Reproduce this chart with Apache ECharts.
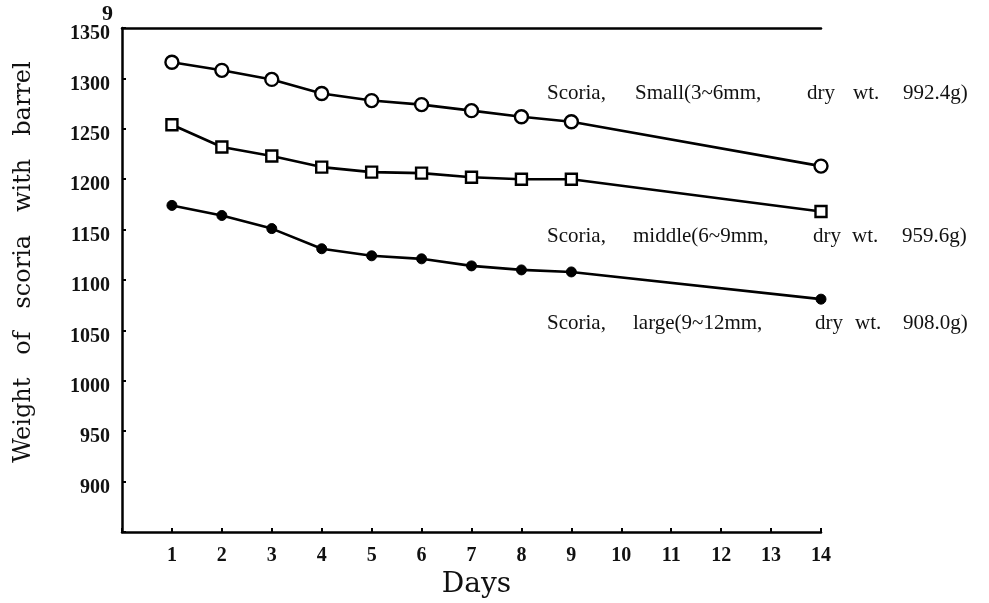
<!DOCTYPE html>
<html><head><meta charset="utf-8">
<script src="https://cdn.jsdelivr.net/npm/echarts@6/dist/echarts.min.js"></script>
<style>html,body{margin:0;padding:0;background:#fff}#c{width:989px;height:603px}</style>
</head><body><div id="c"></div>
<script>
const days = [1,2,3,4,5,6,7,8,9,14];
const smallVals  = [1316,1308,1299,1285,1278,1274,1268,1262,1257,1213];
const middleVals = [1254,1232,1223,1212,1207,1206,1202,1200,1200,1168];
const largeVals  = [1174,1164,1151,1131,1124,1121,1114,1110,1108,1081];
const xTicks = [1,2,3,4,5,6,7,8,9,10,11,12,13,14];
const yTicks = [900,950,1000,1050,1100,1150,1200,1250,1300,1350];
const labelSmall  = ['Scoria,', 'Small(3~6mm,', 'dry', 'wt.', '992.4g)'];
const labelMiddle = ['Scoria,', 'middle(6~9mm,', 'dry', 'wt.', '959.6g)'];
const labelLarge  = ['Scoria,', 'large(9~12mm,', 'dry', 'wt.', '908.0g)'];

const pairs = v => days.map((d,i)=>[d,v[i]]);
const chart = echarts.init(document.getElementById('c'));
const tickFont = {fontFamily:'Liberation Serif', fontWeight:'bold', fontSize:20, color:'#111'};
const wordOffsets = [[0,88,260,306,356],[0,86,266,305,355],[0,86,268,308,356]];
function labelGroup(words, offs, top){
  return words.map((w,i)=>({type:'text', left:547+offs[i], top:top,
    style:{text:w, font:'21px "Liberation Serif"', fill:'#111'}}));
}
chart.setOption({
  animation:false,
  backgroundColor:'#fff',
  grid:{left:122, top:28, right:168, bottom:71, containLabel:false, outerBoundsMode:'none'},
  xAxis:[{
    type:'value', min:0, max:14, interval:1,
    name:'Days', nameLocation:'middle', nameGap:36,
    nameTextStyle:{fontFamily:'DejaVu Serif', fontSize:28, color:'#111', padding:[0,0,0,10]},
    axisLine:{lineStyle:{color:'#000', width:2.5}},
    axisTick:{inside:true, length:4, lineStyle:{color:'#000', width:2}},
    axisLabel:Object.assign({margin:14, formatter:v=>xTicks.includes(v)?String(v):''}, tickFont),
    splitLine:{show:false}
  },{
    type:'value', position:'top', min:0, max:14,
    axisLine:{lineStyle:{color:'#000', width:2.5}},
    axisTick:{show:false}, axisLabel:{show:false}, splitLine:{show:false}
  }],
  yAxis:{
    type:'value', min:850, max:1350, interval:50,
    name:'Weight   of   scoria   with   barrel', nameLocation:'middle', nameGap:86, nameRotate:90,
    nameTextStyle:{fontFamily:'DejaVu Serif', fontSize:24, color:'#111', padding:[0,0,0,36]},
    axisLine:{lineStyle:{color:'#000', width:2.5}},
    axisTick:{inside:true, length:4, lineStyle:{color:'#000', width:2}},
    axisLabel:Object.assign({margin:12, verticalAlign:'top', lineHeight:12, formatter:v=>yTicks.includes(v)?String(v):''}, tickFont),
    splitLine:{show:false}
  },
  series:[
    {type:'line', data:pairs(smallVals), symbol:'circle', symbolSize:13,
     lineStyle:{color:'#000', width:2.6}, itemStyle:{color:'#fff', borderColor:'#000', borderWidth:2.4}},
    {type:'line', data:pairs(middleVals), symbol:'rect', symbolSize:11,
     lineStyle:{color:'#000', width:2.6}, itemStyle:{color:'#fff', borderColor:'#000', borderWidth:2.4}},
    {type:'line', data:pairs(largeVals), symbol:'circle', symbolSize:10,
     lineStyle:{color:'#000', width:2.6}, itemStyle:{color:'#000', borderColor:'#000', borderWidth:1}}
  ],
  graphic:[].concat(
    labelGroup(labelSmall, wordOffsets[0], 83),
    labelGroup(labelMiddle, wordOffsets[1], 226),
    labelGroup(labelLarge, wordOffsets[2], 313),
    [{type:'text', left:102, top:3, style:{text:'9', font:'bold 22px "Liberation Serif"', fill:'#111'}}]
  )
});
</script></body></html>
